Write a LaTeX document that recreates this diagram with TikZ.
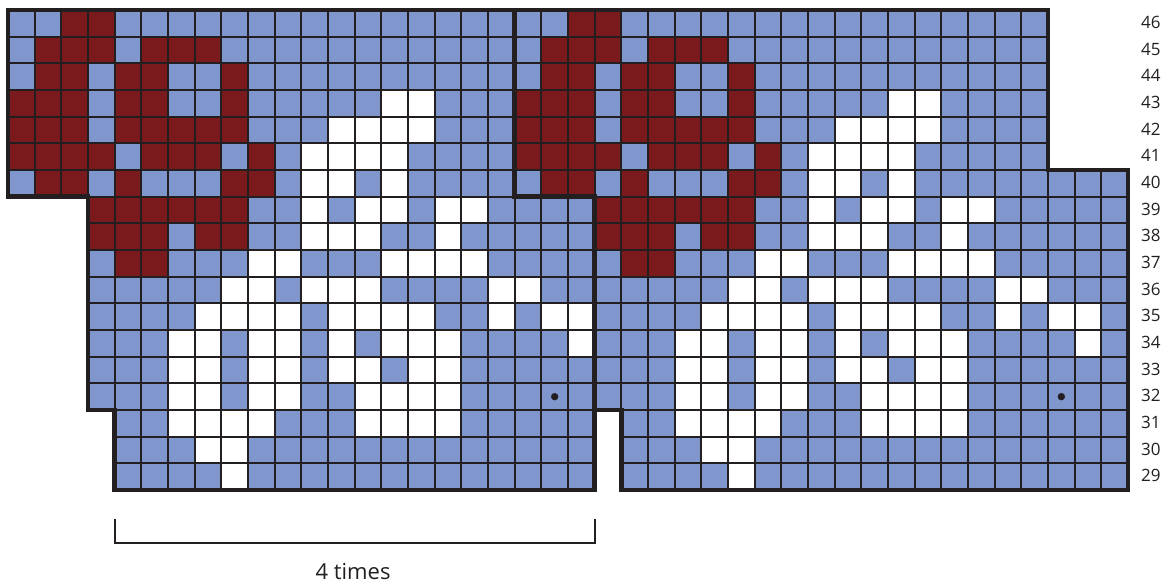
\documentclass[tikz,border=0pt]{standalone}
\usepackage{fontspec}
\setmainfont{Open Sans}
\definecolor{chblue}{HTML}{8097CE}
\definecolor{chred}{HTML}{7A1A1D}
\definecolor{chline}{HTML}{231F20}
\begin{document}
\begin{tikzpicture}[x=1pt,y=-1pt,
  gridline/.style={draw=chline,line width=1.8pt},
  outline/.style={draw=chline,line width=4.6pt,line join=miter},
  bracketline/.style={draw=chline,line width=2pt},
  rownum/.style={font=\fontsize{17}{20}\selectfont,text=chline,inner sep=0pt},
  caption/.style={font=\fontsize{22}{25}\selectfont,text=chline,inner sep=0pt,anchor=base}]
\useasboundingbox (0,0) rectangle (1166,586);
\begin{scope}[shift={(8,10)},x=26.667pt,y=-26.667pt]
  \def\unionpath{(0,0) -- (39,0) -- (39,6) -- (42,6) -- (42,18) -- (23,18) -- (23,15) -- (22,15) -- (22,18) -- (4,18) -- (4,15) -- (3,15) -- (3,7) -- (0,7) -- cycle}
  % background
  \fill[chblue] \unionpath;
  % coloured cells (two repeats, offset 19 columns)
  \foreach \dx in {0,19} {
    \foreach \i/\js in {0/{2,3},1/{1,2,3,5,6,7},2/{1,2,4,5,8},3/{0,1,2,4,5,8},
        4/{0,1,2,4,5,6,7,8},5/{0,1,2,3,5,6,7,9},6/{1,2,4,8,9},7/{3,4,5,6,7,8},
        8/{3,4,5,7,8},9/{4,5}} {
      \foreach \j in \js { \fill[chred] (\j+\dx,\i) rectangle ++(1,1); }
    }
    \foreach \i/\js in {3/{14,15},4/{12,13,14,15},5/{11,12,13,14},6/{11,12,14},
        7/{11,13,14,16,17},8/{11,12,13,16},9/{9,10,14,15,16,17},
        10/{8,9,11,12,13,18,19},11/{7,8,9,10,12,13,14,15,18,20,21},
        12/{6,7,9,10,12,14,15,16,21},13/{6,7,9,10,12,13,15,16},
        14/{6,7,9,10,13,14,15,16},15/{6,7,8,9,13,14,15,16},16/{7,8},17/{8}} {
      \foreach \j in \js { \fill[white] (\j+\dx,\i) rectangle ++(1,1); }
    }
  }
  % grid
  \begin{scope}
    \clip \unionpath;
    \foreach \c in {1,...,41} { \draw[gridline] (\c,0) -- (\c,18); }
    \foreach \i in {1,...,17} { \draw[gridline] (0,\i) -- (42,\i); }
  \end{scope}
  % dots
  \fill[chline] (20.5,14.5) circle (3.7pt);
  \fill[chline] (39.5,14.5) circle (3.7pt);
  % outlines
  \draw[outline] \unionpath;
  \draw[outline] (19,0) -- (19,7) -- (22,7) -- (22,15);
  % row numbers
  \foreach \r in {29,...,46} { \node[rownum] (r\r) at (42.86,{46-\r+0.47}) {\r}; }
  % bracket
  \coordinate (bl) at (4,19.1);
  \coordinate (br) at (22,19.1);
  \coordinate (blb) at (4,20);
  \coordinate (brb) at (22,20);
  \draw[bracketline] (bl) -- (blb) -- (brb) -- (br);
  \node[caption] (times) at (12.94,21.34) {4 times};
\end{scope}
\end{tikzpicture}
\end{document}
